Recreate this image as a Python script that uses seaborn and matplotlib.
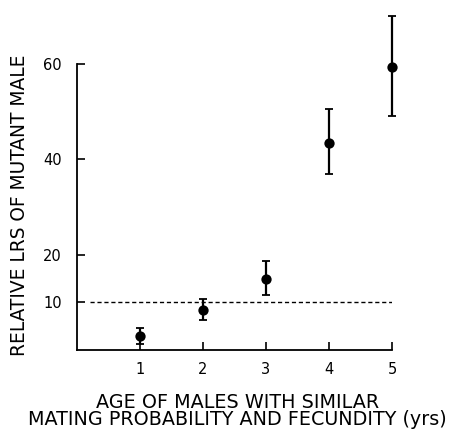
import matplotlib
matplotlib.use("Agg")
import matplotlib.pyplot as plt
import seaborn as sns
import pandas as pd

ages = [1, 2, 3, 4, 5]
lrs = [2.9, 8.3, 14.9, 43.4, 59.4]
err_low = [1.6, 2.1, 3.4, 6.5, 10.4]
err_high = [1.7, 2.3, 3.8, 7.2, 10.7]
yticks = [10, 20, 40, 60]
xticks = [1, 2, 3, 4, 5]
ref_level = 10

sns.set_style("white")
plt.rcParams['font.family'] = ['DejaVu Sans']

df = pd.DataFrame({"age": ages, "lrs": lrs})

fig = plt.figure(figsize=(4.49, 4.32), dpi=100)
ax = fig.add_axes([0.1715, 0.19, 0.873 - 0.1715, 0.984 - 0.19])

ax.errorbar(ages, lrs, yerr=[err_low, err_high], fmt='none', ecolor='black',
            elinewidth=1.6, capsize=2.8, capthick=1.3, clip_on=False, zorder=3)
sns.scatterplot(data=df, x="age", y="lrs", ax=ax, color='black', s=55,
                edgecolor='black', linewidth=0, zorder=4, clip_on=False)
ax.hlines(ref_level, 0.2, 5.05, colors='black', linestyles=(0, (3, 2)), linewidth=1)

ax.set_xlim(0, 5)
ax.set_ylim(0, 72)
ax.spines['top'].set_visible(False)
ax.spines['right'].set_visible(False)
ax.spines['left'].set_bounds(0, 60)
ax.spines['bottom'].set_bounds(0, 5)
for s in ['left', 'bottom']:
    ax.spines[s].set_linewidth(1.3)
    ax.spines[s].set_color('black')

ax.set_xticks(xticks)
ax.set_xticklabels([str(t) for t in xticks])
ax.set_yticks(yticks)
ax.set_yticklabels([str(t) for t in yticks])
ax.tick_params(axis='both', direction='in', length=6, width=1.2, colors='black',
               labelcolor='black', labelsize=10.5, bottom=True, left=True)
ax.tick_params(axis='x', pad=9)
ax.tick_params(axis='y', pad=11)

ax.set_xlabel("AGE OF MALES WITH SIMILAR\nMATING PROBABILITY AND FECUNDITY (yrs)",
              fontsize=13.8, linespacing=0.88, color='black')
ax.set_ylabel("RELATIVE LRS OF MUTANT MALE", fontsize=13.4, color='black')
ax.yaxis.set_label_coords(-0.152, 0.423)
ax.xaxis.set_label_coords(0.51, -0.125)

fig.savefig("out.png", dpi=100)
